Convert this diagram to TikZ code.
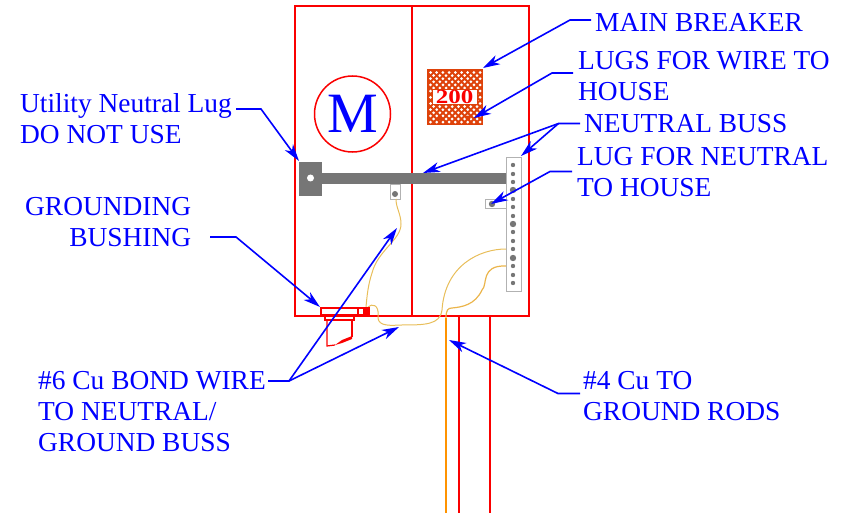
\documentclass[tikz,border=0pt]{standalone}
\usepackage{fontspec}
\setmainfont{Liberation Serif}
\usetikzlibrary{arrows.meta}
\definecolor{boxred}{RGB}{250,0,0}
\definecolor{hatchred}{RGB}{222,66,10}
\definecolor{wirecol}{RGB}{232,190,90}
\definecolor{barcol}{RGB}{118,118,118}
\tikzset{
  callout/.style={font=\fontsize{27.4}{31}\selectfont, text=blue, align=left, anchor=west, inner sep=0pt},
  leader/.style={draw=blue, line width=1.6pt},
  leadertip/.style={leader, -{Stealth[length=17pt,width=10pt,inset=5pt]}},
  wire/.style={wirecol, line width=1pt},
  part/.style={draw=black!30, fill=white, line width=0.8pt},
}
\begin{document}
\begin{tikzpicture}[x=1pt,y=-1pt]
  \useasboundingbox (0,0) rectangle (841,516);

  % panel
  \draw[boxred, line width=1.6pt] (295,6) rectangle (529,316);
  \draw[boxred, line width=1.6pt] (412,6)--(412,316);
  \draw[boxred, line width=1.6pt] (459,316)--(459,513);
  \draw[boxred, line width=1.6pt] (490,316)--(490,513);
  \draw[orange!85!yellow, line width=1.2pt] (446,513)--(446,318);

  % meter
  \node[draw=boxred, line width=1.5pt, circle, minimum size=76pt, inner sep=0pt, text=blue,
        font=\fontsize{57}{57}\selectfont] (meter) at (352.5,114) {M};

  % breaker
  \fill[hatchred] (427,69) rectangle (483,125);
  \foreach \i in {0,...,8} \foreach \j in {0,...,8}
    \fill[white] (430.5+\i*6.2,72.5+\j*6.2) circle[radius=1.5pt];
  \foreach \i in {0,...,7} \foreach \j in {0,...,7}
    \fill[white] (433.6+\i*6.2,75.6+\j*6.2) circle[radius=1.5pt];
  \node[draw=hatchred, fill=white, line width=0.5pt, minimum width=45pt, minimum height=15pt, inner sep=0pt,
        text=boxred, font=\fontsize{20}{20}\selectfont\bfseries] (breaker) at (454.5,96.5) {\scalebox{1.25}[1]{200}};
  \fill[hatchred] (440,118) circle[radius=2.5pt];
  \fill[hatchred] (468,118) circle[radius=2.5pt];

  % neutral bar
  \fill[barcol] (322,173) rectangle (506,184);
  \fill[barcol] (299,162) rectangle (322,196);
  \fill[white] (310.5,178) circle[radius=3.5pt];
  \draw[part] (390,184) rectangle (400,199);
  \fill[barcol] (395,194) circle[radius=3pt];

  % neutral buss
  \draw[part] (506,157) rectangle (521,291);
  \draw[part] (485,199) rectangle (506,208);
  \fill[barcol] (492,204) circle[radius=3.2pt];
  \foreach \y in {165,174,182,199,207,216,232,241,249,266,275,283}
    \fill[barcol] (513,\y) circle[radius=2.2pt];
  \foreach \y in {190,224,258}
    \fill[barcol] (513,\y) circle[radius=3.2pt];

  % wires
  \draw[wire] (396,199) .. controls (396,208) and (401,214) .. (401,224)
    .. controls (401,240) and (378,250) .. (372,273) .. controls (368,285) and (367,296) .. (366,307);
  \draw[wire] (506,249) .. controls (480,249) and (445,265) .. (442,310)
    .. controls (440,325) and (425,325) .. (400,325) .. controls (385,326) and (377,325) .. (378,315)
    .. controls (379,305) and (372,303) .. (368,307);
  \draw[wirecol!85!orange, line width=1.2pt] (506,266) .. controls (480,265) and (488,285) .. (482,290)
    .. controls (475,305) and (462,307) .. (452,308) .. controls (448,308) and (446,310) .. (446,318);

  % bushing
  \draw[boxred, line width=1.2pt] (321,308) rectangle (358,315);
  \draw[boxred, line width=1.2pt] (358,308) rectangle (369,315);
  \fill[boxred] (363,309) rectangle (369,315);
  \draw[boxred, line width=1.2pt] (325,316) rectangle (354,320);
  \draw[boxred, line width=1.2pt] (327,320)--(327,346)--(335,345);
  \fill[boxred] (335,345)--(342,340)--(352,336)--(352,339)--(342,343)--cycle;
  \draw[boxred, line width=1.2pt] (352,337)--(352,320);

  % labels
  \node[callout] (lblbreaker) at (595,22) {MAIN BREAKER};
  \node[callout] (lbllugs) at (578,76) {LUGS FOR WIRE TO\\HOUSE};
  \node[callout] (lblbuss) at (584,124) {NEUTRAL BUSS};
  \node[callout] (lblneutral) at (577,172) {LUG FOR NEUTRAL\\TO HOUSE};
  \node[callout] (lblutility) at (20,119) {Utility Neutral Lug\\DO NOT USE};
  \node[callout, align=right] (lblbushing) at (25,222.5) {GROUNDING\\BUSHING};
  \node[callout] (lblbond) at (38,412) {\#6 Cu BOND WIRE\\TO NEUTRAL/\\GROUND BUSS};
  \node[callout] (lblrods) at (583,396) {\#4 Cu TO\\GROUND RODS};

  % leaders
  \coordinate (startbreaker) at (591,20);
  \coordinate (kneebreaker) at (570,20);
  \coordinate (tipbreaker) at (483,68);
  \coordinate (startlugs) at (573,73);
  \coordinate (kneelugs) at (552,73);
  \coordinate (tiplugs) at (474,118);
  \coordinate (startbuss) at (580,123.5);
  \coordinate (kneebuss) at (558.5,123.5);
  \coordinate (tipbar) at (423,173);
  \coordinate (tipbuss) at (521,156);
  \coordinate (startneutral) at (572,171.5);
  \coordinate (kneeneutral) at (550,171.5);
  \coordinate (tipneutral) at (491,204);
  \coordinate (startutility) at (236,109);
  \coordinate (kneeutility) at (261,109);
  \coordinate (tiputility) at (299,161);
  \coordinate (startbushing) at (210,237);
  \coordinate (kneebushing) at (236,237);
  \coordinate (tipbushing) at (320,307);
  \coordinate (startbond) at (268,381);
  \coordinate (kneebond) at (289,381);
  \coordinate (tipwire) at (397,228);
  \coordinate (tipbondlow) at (399,327);
  \coordinate (startrods) at (580,393.5);
  \coordinate (kneerods) at (558,393.5);
  \coordinate (tiprods) at (449,340);

  \draw[leadertip] (startbreaker)--(kneebreaker)--(tipbreaker);
  \draw[leadertip] (startlugs)--(kneelugs)--(tiplugs);
  \draw[leadertip] (startbuss)--(kneebuss)--(tipbar);
  \draw[leadertip] (kneebuss)--(tipbuss);
  \draw[leadertip] (startneutral)--(kneeneutral)--(tipneutral);
  \draw[leadertip] (startutility)--(kneeutility)--(tiputility);
  \draw[leadertip] (startbushing)--(kneebushing)--(tipbushing);
  \draw[leadertip] (startbond)--(kneebond)--(tipwire);
  \draw[leadertip] (kneebond)--(tipbondlow);
  \draw[leadertip] (startrods)--(kneerods)--(tiprods);
\end{tikzpicture}
\end{document}
